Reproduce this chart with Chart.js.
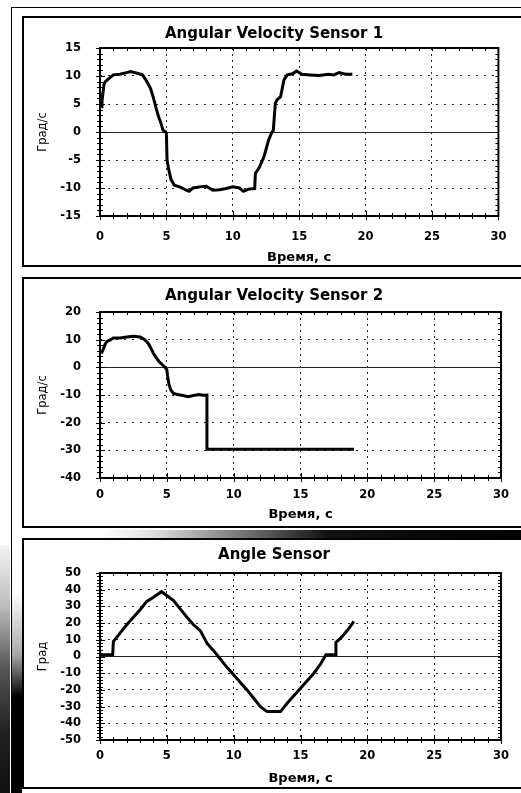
<!DOCTYPE html>
<html lang="ru">
<head>
<meta charset="UTF-8">
<title>Sensors</title>
<script src="https://cdn.jsdelivr.net/npm/chart.js"></script>
<style>
  html, body { margin: 0; padding: 0; background: #fff; overflow: hidden; }
  body { width: 521px; height: 793px; position: relative; }
  .frame { position: absolute; left: 11px; top: 7px; width: 600px; height: 900px; border: 1px solid #000; }
  .panel { position: absolute; left: 22px; width: 600px; height: 247px; border: 2px solid #000; }
  canvas { position: absolute; left: 24px; }
  .band { position: absolute; left: 12px; top: 530px; width: 509px; height: 8px;
          background: linear-gradient(to right, #fff 18%, #ddd 28%, #777 45%, #111 62%, #000); }
  .stripA { position: absolute; left: 0; top: 545px; width: 10px; height: 248px;
            background: linear-gradient(#f4f4f4, #bbb 25%, #555 50%, #222 75%, #111); }
  .stripB { position: absolute; left: 12px; top: 540px; width: 10px; height: 253px;
            background: linear-gradient(#fff 20%, #aaa 45%, #000 62%); }
</style>
</head>
<body>
<div class="frame"></div>
<div class="stripA"></div>
<div class="stripB"></div>
<div class="panel" style="top:16px"></div>
<div class="panel" style="top:277px"></div>
<div class="band"></div>
<div class="panel" style="top:538px"></div>
<canvas id="c1" width="497" height="247" style="top:18px"></canvas>
<canvas id="c2" width="497" height="247" style="top:279px"></canvas>
<canvas id="c3" width="497" height="247" style="top:540px"></canvas>

<script>
// Angular Velocity Sensor 1
const s1Time = [0.1, 0.15, 0.3, 0.4, 0.6, 1.0, 1.5, 2.0, 2.3, 2.8, 3.2, 3.4, 3.6, 3.8, 4.0, 4.2, 4.4, 4.6, 4.75, 4.95,
                5.0, 5.05, 5.2, 5.35, 5.6, 6.0, 6.5, 6.7, 7.0, 7.5, 8.0, 8.5, 9.0, 9.5, 10.0, 10.5, 10.8, 11.2, 11.65,
                11.7, 12.0, 12.35, 12.7, 12.95, 13.05, 13.2, 13.35, 13.6, 13.85, 14.1, 14.5, 14.8, 15.2, 15.8, 16.5,
                17.2, 17.6, 18.0, 18.5, 19.0];
const s1Vals = [4.5, 5.5, 8.5, 9.0, 9.4, 10.2, 10.3, 10.6, 10.8, 10.5, 10.2, 9.5, 8.7, 7.8, 6.3, 4.5, 2.8, 1.5, 0.3, 0,
                -0.3, -5.0, -7.0, -8.5, -9.5, -9.8, -10.4, -10.6, -10.0, -9.8, -9.7, -10.4, -10.3, -10.1, -9.8, -10.0, -10.6, -10.2, -10.1,
                -7.4, -6.3, -4.4, -1.4, 0, 0.3, 5.1, 5.8, 6.3, 9.3, 10.2, 10.4, 10.9, 10.3, 10.2, 10.1,
                10.3, 10.2, 10.6, 10.3, 10.3];

// Angular Velocity Sensor 2
const s2Time = [0.1, 0.2, 0.35, 0.5, 0.8, 1.0, 1.5, 2.0, 2.5, 3.0, 3.3, 3.6, 3.8, 4.0, 4.2, 4.4, 4.6, 4.8, 5.0,
                5.05, 5.15, 5.3, 5.5, 5.8, 6.2, 6.6, 7.0, 7.4, 7.7, 8.0, 8.0, 19.0];
const s2Vals = [5, 6, 8, 9.3, 10, 10.6, 10.6, 11, 11.2, 11, 10.2, 8.7, 7, 5, 3.5, 2.2, 1.2, 0.3, -0.8,
                -3, -6, -8.2, -9.4, -9.8, -10.2, -10.6, -10.2, -9.8, -10.1, -10, -29.6, -29.6];

// Angle Sensor
const angTime = [0, 0.95, 1.0, 1.5, 2.0, 2.5, 3.0, 3.5, 4.0, 4.6, 5.0, 5.5, 6.0, 6.5, 7.0, 7.5, 8.0, 8.5, 9.0, 9.5,
                 10.0, 10.5, 11.0, 11.5, 12.0, 12.5, 13.0, 13.5, 14.0, 14.5, 15.0, 15.5, 16.0, 16.5, 16.9, 17.6, 17.65,
                 18.0, 18.5, 19.0];
const angVals = [1, 1, 9, 14, 19, 23.5, 28, 33, 35.5, 38.8, 36.5, 33.5, 28.5, 23.5, 19, 15.5, 8, 3.5, -1.5, -6.5,
                 -11, -15.5, -20, -25, -30, -33, -33, -33, -28, -23.5, -19, -14.5, -10, -4.5, 1, 1, 8.5,
                 11, 15.5, 21];

const titles = ['Angular Velocity Sensor 1', 'Angular Velocity Sensor 2', 'Angle Sensor'];
const yTitles = ['Град/с', 'Град/с', 'Град'];
const xTitle = 'Время, с';

Chart.defaults.font.family = '"DejaVu Sans", Arial, sans-serif';
Chart.defaults.color = '#000';
Chart.defaults.animation = false;

// frame around the plot and the little tick marks on all four sides
const frameTicks = {
  id: 'frameTicks',
  afterDatasetsDraw(chart, args, opts) {
    const ctx = chart.ctx, a = chart.chartArea, x = chart.scales.x, y = chart.scales.y;
    ctx.save();
    ctx.strokeStyle = '#000';
    ctx.lineWidth = 1;
    ctx.beginPath();
    for (let v = x.min; v <= x.max + 1e-9; v += opts.xMinor) {
      const px = Math.round(x.getPixelForValue(v)) + 0.5;
      const big = Math.abs(v % opts.xMajor) < 1e-9;
      ctx.moveTo(px, a.bottom + (big ? 4 : 3)); ctx.lineTo(px, a.bottom - (big ? 5 : 3));
      ctx.moveTo(px, a.top); ctx.lineTo(px, a.top + 3);
    }
    for (let v = y.min; v <= y.max + 1e-9; v += opts.yMinor) {
      const py = Math.round(y.getPixelForValue(v)) + 0.5;
      const big = Math.abs(v % opts.yMajor) < 1e-9;
      ctx.moveTo(a.left - (big ? 4 : 3), py); ctx.lineTo(a.left + (big ? 5 : 3), py);
      ctx.moveTo(a.right, py); ctx.lineTo(a.right - 3, py);
    }
    ctx.stroke();
    ctx.lineWidth = 2;
    ctx.strokeRect(a.left, a.top, a.right - a.left, a.bottom - a.top);
    ctx.restore();
  }
};

function makeChart(id, times, vals, idx, yMin, yMax, yStep, yMinor, lay) {
  const pts = times.map((t, i) => ({ x: t, y: vals[i] }));
  return new Chart(document.getElementById(id), {
    type: 'line',
    data: { datasets: [{ data: pts, borderColor: '#000', borderWidth: 3, pointRadius: 0, tension: 0, fill: false }] },
    plugins: [frameTicks],
    options: {
      responsive: false,
      layout: { padding: { left: 23, right: 20, top: 0, bottom: 0 } },
      plugins: {
        legend: { display: false },
        tooltip: { enabled: false },
        title: {
          display: true, text: titles[idx],
          font: { size: 15, weight: 'bold' },
          padding: { top: lay.tTop, bottom: lay.tBottom }
        },
        frameTicks: { xMinor: 1, xMajor: 5, yMinor: yMinor, yMajor: yStep }
      },
      scales: {
        x: {
          type: 'linear', min: 0, max: 30,
          ticks: { stepSize: 5, padding: lay.xPad, font: { size: 11.5, weight: 'bold' }, maxRotation: 0, autoSkip: false },
          grid: {
            drawTicks: false,
            color: c => (c.tick && (c.tick.value === 0 || c.tick.value === 30)) ? 'rgba(0,0,0,0)' : '#222'
          },
          border: { display: false, dash: [2, 4] },
          title: { display: true, text: xTitle, font: { size: 13, weight: 'bold' }, padding: { top: 0, bottom: lay.xtPad } },
          afterFit: s => { s.height = lay.xH; }
        },
        y: {
          min: yMin, max: yMax,
          ticks: { stepSize: yStep, padding: 19, font: { size: 11.5, weight: 'bold' }, autoSkip: false },
          grid: {
            drawTicks: false,
            color: c => (c.tick && (c.tick.value === yMin || c.tick.value === yMax)) ? 'rgba(0,0,0,0)' : '#222'
          },
          border: { display: false, dash: c => (c.tick && c.tick.value === 0) ? [] : [2, 6] },
          title: { display: true, text: yTitles[idx], font: { size: 11.5 }, padding: { top: -11, bottom: 0 } },
          afterFit: s => { s.width = 53; }
        }
      }
    }
  });
}

makeChart('c1', s1Time, s1Vals, 0, -15, 15, 5, 1, { tTop: 7.4, tBottom: 4.6, xPad: 14.6, xtPad: -0.8, xH: 49 });
makeChart('c2', s2Time, s2Vals, 1, -40, 20, 10, 2, { tTop: 8.4, tBottom: 6.6, xPad: 10.6, xtPad: 3.2, xH: 48 });
makeChart('c3', angTime, angVals, 2, -50, 50, 10, 2, { tTop: 6.4, tBottom: 8.6, xPad: 9.6, xtPad: 0.7, xH: 47 });
</script>
</body>
</html>
